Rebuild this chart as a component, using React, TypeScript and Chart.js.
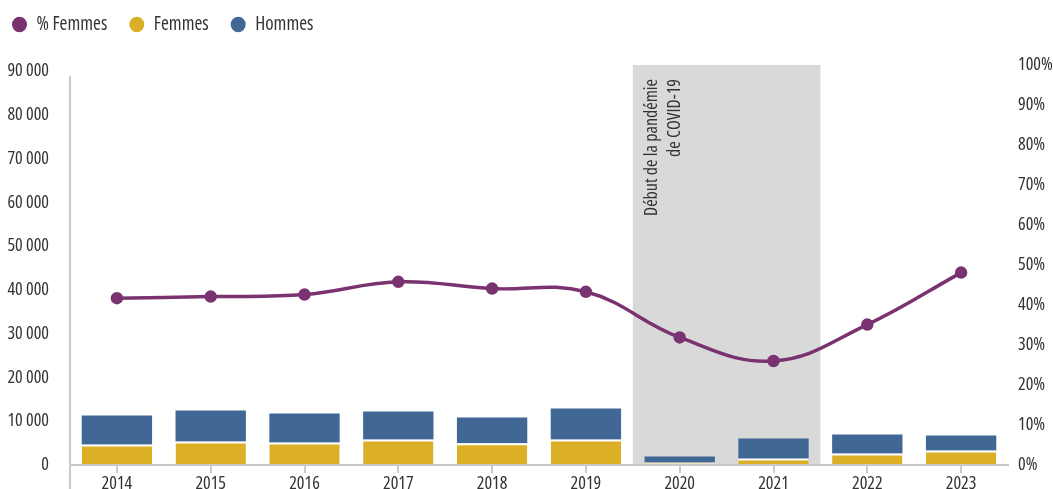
import React, { useEffect, useRef } from 'react';
import { Chart, registerables } from 'chart.js';

Chart.register(...registerables);

const years = ['2014', '2015', '2016', '2017', '2018', '2019', '2020', '2021', '2022', '2023'];
const femmes = [4680, 5360, 5130, 5820, 4970, 5820, 570, 1480, 2620, 3310];
const hommes = [6610, 7070, 6620, 6390, 5870, 7070, 1370, 4570, 4340, 3420];
const pctFemmes = [41.7, 42.1, 42.6, 45.8, 44.1, 43.3, 31.9, 26.0, 35.1, 48.1];
const leftTicks = [0, 10000, 20000, 30000, 40000, 50000, 60000, 70000, 80000, 90000];
const rightTicks = [0, 10, 20, 30, 40, 50, 60, 70, 80, 90, 100];
const covidYears = ['2020', '2021'];
const covidLabel = ['Début de la pandémie', 'de COVID-19'];
const seriesNames = ['% Femmes', 'Femmes', 'Hommes'];

const PURPLE = '#7a3370';
const GOLD = '#dbb026';
const BLUE = '#416795';
const AXIS = '#c9c9cd';
const TEXT = '#333333';

type FontPick = { family: string; weight: string; size: number };

function pickFont(): FontPick {
  const fallback: FontPick = { family: "'Liberation Sans', sans-serif", weight: '', size: 15 };
  try {
    const ctx = document.createElement('canvas').getContext('2d');
    if (!ctx) return fallback;
    const sample = '90 000 2014 Début de la pandémie %';
    const w = (f: string) => {
      ctx.font = f;
      return ctx.measureText(sample).width;
    };
    const cands = [
      { fam: "'Liberation Sans Narrow'", weight: '' },
      { fam: "'DejaVu Sans Condensed'", weight: '' },
      { fam: "'Roboto Condensed'", weight: '' },
      { fam: "'Open Sans Condensed'", weight: '' },
      { fam: "'Noto Sans'", weight: 'condensed' },
      { fam: "'Open Sans'", weight: 'condensed' },
      { fam: "'DejaVu Sans'", weight: 'condensed' },
      { fam: 'Roboto', weight: 'condensed' },
      { fam: "'Liberation Sans'", weight: '' },
    ];
    let best: { fam: string; weight: string; width: number } | null = null;
    for (const c of cands) {
      const pre = c.weight ? c.weight + ' ' : '';
      const a = w(`${pre}40px ${c.fam}, monospace`);
      const b = w(`40px monospace`);
      const a2 = w(`${pre}40px ${c.fam}, serif`);
      const b2 = w(`40px serif`);
      if (Math.abs(a - b) < 0.5 && Math.abs(a2 - b2) < 0.5) continue;
      if (c.weight) {
        const normal = w(`40px ${c.fam}, monospace`);
        if (a > normal * 0.97) continue;
      }
      if (!best || a < best.width) best = { fam: c.fam, weight: c.weight, width: a };
    }
    if (!best) return fallback;
    const pre = best.weight ? best.weight + ' ' : '';
    ctx.font = `${pre}100px ${best.fam}, sans-serif`;
    const per = ctx.measureText('2014').width / 100;
    let size = 32 / per;
    size = Math.max(14, Math.min(18, size));
    return { family: `${best.fam}, sans-serif`, weight: best.weight, size: Math.round(size * 2) / 2 };
  } catch (e) {
    return fallback;
  }
}

const fmt = (v: number) => String(v).replace(/\B(?=(\d{3})+(?!\d))/g, ' ');

export default function App() {
  const ref = useRef<HTMLCanvasElement | null>(null);

  useEffect(() => {
    if (!ref.current) return;
    const fp = pickFont();
    const font: any = { family: fp.family, size: fp.size };
    if (fp.weight) font.weight = fp.weight;
    const legendFont: any = { ...font, size: fp.size + 1 };
    const fontStr = `${fp.weight ? fp.weight + ' ' : ''}${fp.size}px ${fp.family}`;

    const covidPlugin = {
      id: 'covidBand',
      afterLayout(chart: any) {
        const lg = chart.legend;
        if (lg) {
          lg.left = -10;
          lg.top = -7;
        }
      },
      beforeDatasetsDraw(chart: any) {
        const { ctx, chartArea, scales } = chart;
        const x = scales.x;
        const i0 = years.indexOf(covidYears[0]);
        const i1 = years.indexOf(covidYears[covidYears.length - 1]);
        const left = x.getPixelForValue(i0 - 0.5);
        const right = x.getPixelForValue(i1 + 0.5);
        ctx.save();
        ctx.fillStyle = '#d9d9d9';
        ctx.fillRect(left, chartArea.top, right - left, chartArea.bottom - chartArea.top);
        ctx.translate(left + 19, chartArea.top + 14);
        ctx.rotate(-Math.PI / 2);
        ctx.font = fontStr;
        ctx.fillStyle = TEXT;
        ctx.textAlign = 'right';
        ctx.textBaseline = 'middle';
        covidLabel.forEach((t, k) => ctx.fillText(t, 0, k * 23));
        ctx.restore();
      },
      afterDraw(chart: any) {
        const { ctx, chartArea } = chart;
        ctx.save();
        ctx.strokeStyle = AXIS;
        ctx.lineWidth = 2;
        ctx.beginPath();
        ctx.moveTo(chartArea.left, chartArea.top + 11);
        ctx.lineTo(chartArea.left, chart.height);
        ctx.stroke();
        ctx.restore();
      },
    };

    const legendHeightPlugin = {
      id: 'legendHeight',
      beforeUpdate(chart: any) {
        const lg = chart.legend;
        if (lg && !lg.__patched) {
          const orig = lg.fit;
          lg.fit = function () {
            orig.call(this);
            this.height = 65;
          };
          lg.__patched = true;
        }
      },
    };

    const chart = new Chart(ref.current, {
      type: 'bar',
      data: {
        labels: years,
        datasets: [
          {
            type: 'line',
            label: seriesNames[0],
            data: pctFemmes,
            yAxisID: 'y1',
            borderColor: PURPLE,
            backgroundColor: PURPLE,
            pointBackgroundColor: PURPLE,
            pointBorderColor: PURPLE,
            pointRadius: 4.5,
            borderWidth: 3.5,
            tension: 0.4,
            fill: false,
            order: 0,
          } as any,
          {
            type: 'bar',
            label: seriesNames[1],
            data: femmes,
            yAxisID: 'y',
            backgroundColor: GOLD,
            borderColor: '#ffffff',
            borderWidth: { top: 2, left: 0, right: 0, bottom: 0 },
            borderSkipped: 'start',
            stack: 's',
            barPercentage: 0.75,
            categoryPercentage: 1,
            order: 1,
          } as any,
          {
            type: 'bar',
            label: seriesNames[2],
            data: hommes,
            yAxisID: 'y',
            backgroundColor: BLUE,
            borderWidth: 0,
            stack: 's',
            barPercentage: 0.75,
            categoryPercentage: 1,
            order: 2,
          } as any,
        ],
      },
      options: {
        responsive: false,
        animation: false,
        layout: { padding: 0 },
        plugins: {
          tooltip: { enabled: false },
          legend: {
            display: true,
            position: 'top',
            align: 'start',
            labels: {
              usePointStyle: true,
              pointStyle: 'circle',
              pointStyleWidth: 15,
              boxHeight: 11,
              padding: 22,
              color: TEXT,
              font: legendFont,
              generateLabels: (c: any) =>
                Chart.defaults.plugins.legend.labels.generateLabels(c).map((it: any) => ({
                  ...it,
                  lineWidth: 0,
                  strokeStyle: it.fillStyle,
                  pointStyle: 'circle',
                })),
            },
          },
        },
        scales: {
          x: {
            stacked: true,
            grid: {
              display: true,
              drawOnChartArea: false,
              drawTicks: true,
              tickLength: 8,
              color: AXIS,
              lineWidth: 2,
              offset: false,
            },
            border: { display: true, color: AXIS, width: 2, z: 1 },
            ticks: { color: TEXT, font, padding: 0, maxRotation: 0 },
            afterFit: (s: any) => {
              s.height = 24;
            },
          },
          y: {
            stacked: true,
            position: 'left',
            min: 0,
            max: 91400,
            grid: { display: false },
            border: { display: false },
            ticks: {
              color: TEXT,
              font,
              padding: 13,
              callback: (v: any) => fmt(Number(v)),
            },
            afterBuildTicks: (s: any) => {
              s.ticks = leftTicks.map((v) => ({ value: v }));
            },
            afterFit: (s: any) => {
              s.width = 70;
            },
          },
          y1: {
            position: 'right',
            min: 0,
            max: 100,
            grid: { display: false },
            border: { display: false },
            ticks: {
              color: TEXT,
              font,
              padding: 2,
              callback: (v: any) => `${v}%`,
            },
            afterBuildTicks: (s: any) => {
              s.ticks = rightTicks.map((v) => ({ value: v }));
            },
            afterFit: (s: any) => {
              s.width = 45;
            },
          },
        },
      },
      plugins: [legendHeightPlugin, covidPlugin],
    } as any);
    return () => chart.destroy();
  }, []);

  return (
    <div style={{ position: 'absolute', left: 0, top: 0, width: 1053, height: 489, background: '#fff' }}>
      <canvas ref={ref} width={1053} height={489} style={{ display: 'block' }} />
    </div>
  );
}
